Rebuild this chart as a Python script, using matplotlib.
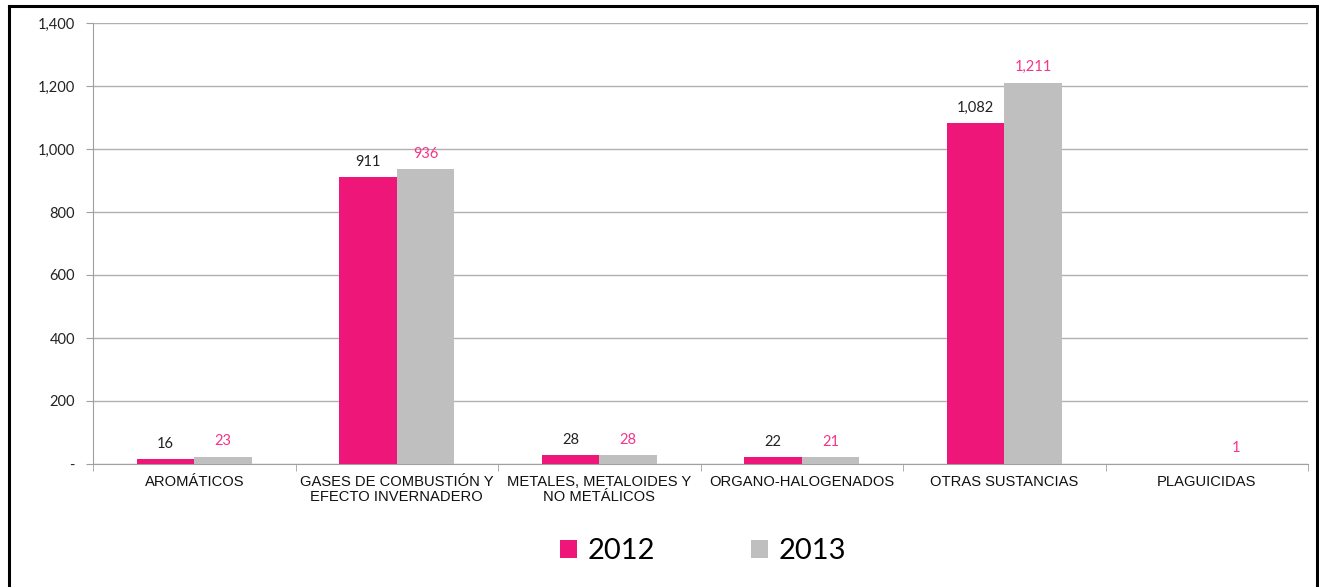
import numpy as np
import matplotlib.pyplot as plt
from matplotlib.lines import Line2D
from matplotlib.ticker import FuncFormatter

# Categorías y valores por año
categorias = ['AROMÁTICOS', 'GASES DE COMBUSTIÓN Y\nEFECTO INVERNADERO',
              'METALES, METALOIDES Y\nNO METÁLICOS', 'ORGANO-HALOGENADOS',
              'OTRAS SUSTANCIAS', 'PLAGUICIDAS']
valores_2012 = [16, 911, 28, 22, 1082, np.nan]
valores_2013 = [23, 936, 28, 21, 1211, 1]

rosa = '#EE1679'
gris = '#BFBFBF'
rosa_texto = '#F7348A'
fuente_num = 'Lato'

fig = plt.figure(figsize=(13.19, 5.87), dpi=100)
ax = fig.add_axes([93 / 1319, 1 - 464 / 587, 1215 / 1319, 441 / 587])

x = np.arange(len(categorias))
ancho = 0.284
b1 = ax.bar(x - ancho / 2, valores_2012, ancho, color=rosa, label='2012', zorder=3)
b2 = ax.bar(x + ancho / 2, valores_2013, ancho, color=gris, label='2013', zorder=3)

# Etiquetas de valor sobre las barras
for xi, v in zip(x, valores_2012):
    if not np.isnan(v):
        ax.annotate(f'{v:,.0f}', (xi - ancho / 2, v), xytext=(0, 6),
                    textcoords='offset points', ha='center', va='bottom',
                    fontsize=10.5, family=fuente_num, color='#222222')
for xi, v in zip(x, valores_2013):
    ax.annotate(f'{v:,.0f}', (xi + ancho / 2, v), xytext=(0, 6),
                textcoords='offset points', ha='center', va='bottom',
                fontsize=10.5, family=fuente_num, color=rosa_texto)

ax.set_xlim(-0.5, len(categorias) - 0.5)
ax.set_ylim(0, 1400)
ax.set_yticks(np.arange(0, 1401, 200))
ax.yaxis.set_major_formatter(FuncFormatter(lambda v, p: '-' if v == 0 else f'{v:,.0f}'))
for lab in ax.get_yticklabels():
    lab.set_family(fuente_num)
    lab.set_fontsize(10.5)
    lab.set_color('#222222')

ax.set_xticks(x)
ax.set_xticklabels(categorias, family='Liberation Sans', fontsize=10.6, color='#111111',
                   linespacing=1.1)
ax.tick_params(axis='x', length=0, pad=8)
ax.set_xticks(np.arange(-0.5, len(categorias)), minor=True)
ax.tick_params(axis='x', which='minor', length=5, color='#A0A0A0')
ax.tick_params(axis='y', length=5, color='#A0A0A0', pad=8)

ax.grid(axis='y', color='#B0B0B0', linewidth=1, zorder=0)
for s in ['top', 'right']:
    ax.spines[s].set_visible(False)
for s in ['left', 'bottom']:
    ax.spines[s].set_color('#A0A0A0')

leg = fig.legend(handles=[b1, b2], loc='center', bbox_to_anchor=(703 / 1319, 1 - 551 / 587),
                 ncol=2, frameon=False, prop={'family': fuente_num, 'size': 21},
                 handlelength=0.58, handleheight=0.58, handletextpad=0.35,
                 columnspacing=3.3)

# Marco negro del gráfico
for xs, ys in [([9 / 1319, 9 / 1319], [0, 1 - 6 / 587]),
               ([9 / 1319, 1317 / 1319], [1 - 6 / 587, 1 - 6 / 587]),
               ([1317 / 1319, 1317 / 1319], [1 - 6 / 587, 0])]:
    fig.add_artist(Line2D(xs, ys, transform=fig.transFigure, color='black', linewidth=2.2))

fig.savefig('out.png', dpi=100)
